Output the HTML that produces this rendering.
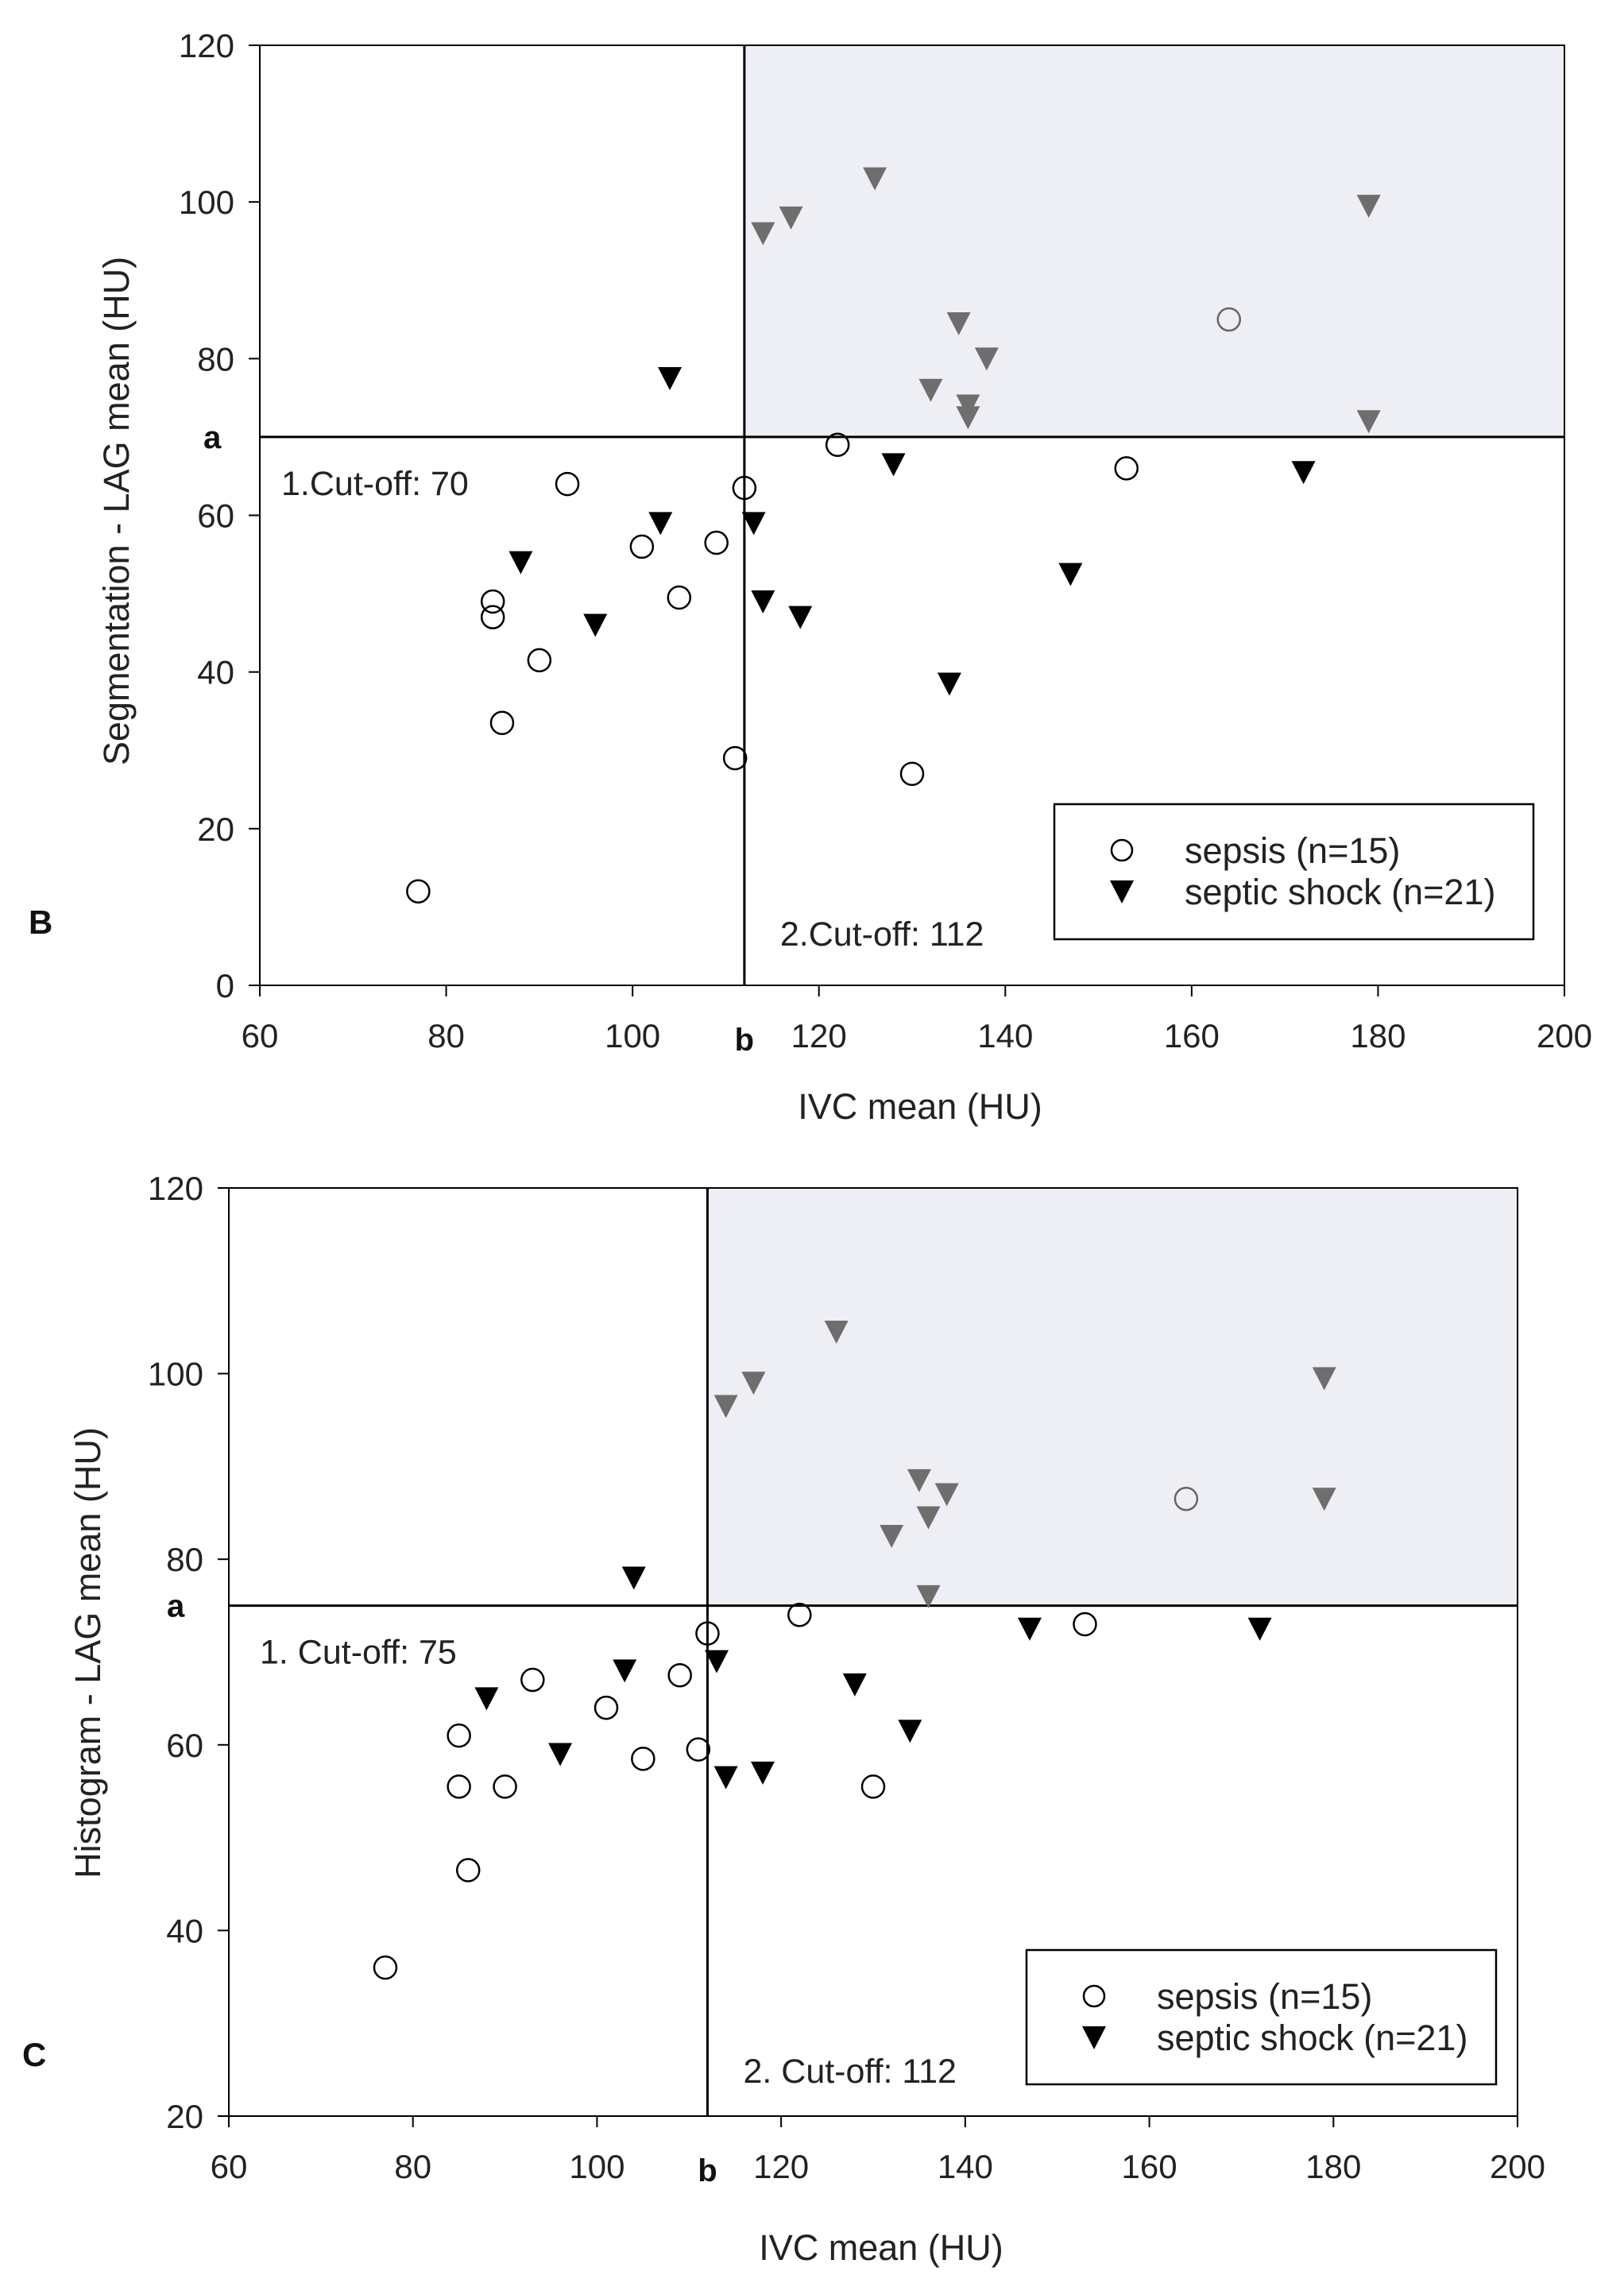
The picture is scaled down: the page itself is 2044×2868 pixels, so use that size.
<!DOCTYPE html>
<html><head><meta charset="utf-8"><style>
html,body{margin:0;padding:0;background:#fff;}
svg{display:block;font-family:"Liberation Sans",sans-serif;}
</style></head><body>
<svg id="chart" width="2044" height="2868" viewBox="0 0 2044 2868" xmlns="http://www.w3.org/2000/svg"></svg>
<script>
// Panel B data
const bSepsisX=[77,85,85,86,90,93,101,105,109,111,112,122,130,153,164];
const bSepsisY=[12,49,47,33.5,41.5,64,56,49.5,56.5,29,63.5,69,27,66,85];
const bShockX=[88,96,103,104,113,114,118,128,134,147,172,114,117,126,132,135,136,136,138,179,179];
const bShockY=[54,46,59,77.5,59,49,47,66.5,38.5,52.5,65.5,96,98,103,76,84.5,74,72.5,80,99.5,72];
// Panel C data
const cSepsisX=[77,85,85,86,90,93,101,105,109,111,112,122,130,153,164];
const cSepsisY=[36,61,55.5,46.5,55.5,67,64,58.5,67.5,59.5,72,74,55.5,73,86.5];
const cShockX=[88,96,103,104,113,114,118,128,134,147,172,114,117,126,132,135,136,136,138,179,179];
const cShockY=[65,59,68,78,69,56.5,57,66.5,61.5,72.5,72.5,96.5,99,104.5,82.5,88.5,84.5,76,87,99.5,86.5];
const xTicks=[60,80,100,120,140,160,180,200];
const bYTicks=[0,20,40,60,80,100,120];
const cYTicks=[20,40,60,80,100,120];

const NS="http://www.w3.org/2000/svg";
const svg=document.getElementById('chart');
function mk(tag,attrs,parent,txt){const e=document.createElementNS(NS,tag);for(const k in attrs)e.setAttribute(k,attrs[k]);if(txt!==undefined)e.textContent=txt;(parent||svg).appendChild(e);return e;}

function panel(cfg){
  const g=mk('g',{});
  
  
  const sx=v=>cfg.L+(v-60)/(140)*(cfg.R-cfg.L);
  const sy=v=>cfg.B-(v-cfg.ymin)/(cfg.ymax-cfg.ymin)*(cfg.B-cfg.T);
  const shade=mk('rect',{x:sx(cfg.cx),y:cfg.T,width:cfg.R-sx(cfg.cx),height:sy(cfg.cy)-cfg.T,fill:'#eeeff5'},g);
  
  
  const box=mk('rect',{x:cfg.L,y:cfg.T,width:cfg.R-cfg.L,height:cfg.B-cfg.T,fill:'none',stroke:'#000','stroke-width':2},g);
  
  
  const hl=mk('line',{x1:cfg.L,x2:cfg.R,y1:sy(cfg.cy),y2:sy(cfg.cy),stroke:'#000','stroke-width':3},g);
  
  
  const vl=mk('line',{x1:sx(cfg.cx),x2:sx(cfg.cx),y1:cfg.T,y2:cfg.B,stroke:'#000','stroke-width':3},g);
  
  
  xTicks.forEach(v=>{
    mk('line',{x1:sx(v),x2:sx(v),y1:cfg.B,y2:cfg.B+14,stroke:'#000','stroke-width':2},g);
    const t=mk('text',{x:sx(v),y:cfg.B+78,'font-size':42,'text-anchor':'middle',fill:'#222'},g,String(v));
    
    
  });
  cfg.yTicks.forEach(v=>{
    mk('line',{x1:cfg.L-14,x2:cfg.L,y1:sy(v),y2:sy(v),stroke:'#000','stroke-width':2},g);
    const t=mk('text',{x:cfg.L-32,y:sy(v)+15,'font-size':42,'text-anchor':'end',fill:'#222'},g,String(v));
    
    
  });
  const xt=mk('text',{x:(cfg.L+cfg.R)/2+10,y:cfg.xTitleY,'font-size':45,'text-anchor':'middle',fill:'#222'},g,'IVC mean (HU)');
  
  
  const yt=mk('text',{x:0,y:0,'font-size':45,'text-anchor':'middle',fill:'#222',transform:`translate(${cfg.yTitleX},${cfg.yTitleY}) rotate(-90)`},g,cfg.ytitle);
  
  
  const la=mk('text',{x:cfg.aX,y:sy(cfg.cy)+14,'font-size':40,'font-weight':'bold',fill:'#111'},g,'a');
  
  
  const lb=mk('text',{x:sx(cfg.cx),y:cfg.B+82,'font-size':40,'font-weight':'bold','text-anchor':'middle',fill:'#111'},g,'b');
  
  
  const lp=mk('text',{x:cfg.pX,y:cfg.pY,'font-size':42,'font-weight':'bold',fill:'#111'},g,cfg.panel);
  
  
  const c1=mk('text',{x:cfg.c1X,y:sy(cfg.cy)+73,'font-size':43,fill:'#222'},g,cfg.c1);
  
  
  const c2=mk('text',{x:sx(cfg.cx)+45,y:cfg.c2Y,'font-size':43,fill:'#222'},g,cfg.c2);
  
  
  cfg.sx_.forEach((x,i)=>{
    const y=cfg.sy_[i];
    const inQ=x>cfg.cx&&y>cfg.cy;
    const c=mk('circle',{cx:sx(x),cy:sy(y),r:14,fill:'none',stroke:inQ?'#666':'#000','stroke-width':2.5},g);
    
    
  });
  cfg.tx_.forEach((x,i)=>{
    const y=cfg.ty_[i];
    const inQ=x>cfg.cx&&y>cfg.cy;
    const X=sx(x),Y=sy(y);
    const p=mk('polygon',{points:`${X-15},${Y-14} ${X+15},${Y-14} ${X},${Y+15}`,fill:inQ?'#6e6e6e':'#000'},g);
    
    
  });
  const lg=mk('g',{},g);
  
  
  mk('rect',{x:cfg.lgX,y:cfg.lgY,width:cfg.lgW,height:cfg.lgH,fill:'#fff',stroke:'#000','stroke-width':2.5},lg);
  const e1=mk('g',{},lg);
  
  
  mk('circle',{cx:cfg.lgX+85,cy:cfg.lgY+58,r:13,fill:'none',stroke:'#000','stroke-width':2.5},e1);
  mk('text',{x:cfg.lgX+164,y:cfg.lgY+74,'font-size':45,fill:'#222'},e1,'sepsis (n=15)');
  const e2=mk('g',{},lg);
  
  
  const X=cfg.lgX+85,Y=cfg.lgY+110;
  mk('polygon',{points:`${X-15},${Y-14} ${X+15},${Y-14} ${X},${Y+15}`,fill:'#000'},e2);
  mk('text',{x:cfg.lgX+164,y:cfg.lgY+126,'font-size':45,fill:'#222'},e2,'septic shock (n=21)');
}

panel({name:'panel-b-chart',panel:'B',L:327,R:1969,T:57,B:1240,ymin:0,ymax:120,cx:112,cy:70,yTicks:bYTicks,
  ytitle:'Segmentation - LAG mean (HU)',yTitleX:162,yTitleY:643,xTitleY:1408,aX:256,pX:36,pY:1175,
  c1:'1.Cut-off: 70',c1X:354,c2:'2.Cut-off: 112',c2Y:1190,
  sx_:bSepsisX,sy_:bSepsisY,tx_:bShockX,ty_:bShockY,lgX:1327,lgY:1012,lgW:603,lgH:170});
panel({name:'panel-c-chart',panel:'C',L:288,R:1910,T:1495,B:2663,ymin:20,ymax:120,cx:112,cy:75,yTicks:cYTicks,
  ytitle:'Histogram - LAG mean (HU)',yTitleX:126,yTitleY:2080,xTitleY:2844,aX:210,pX:28,pY:2600,
  c1:'1. Cut-off: 75',c1X:327,c2:'2. Cut-off: 112',c2Y:2621,
  sx_:cSepsisX,sy_:cSepsisY,tx_:cShockX,ty_:cShockY,lgX:1292,lgY:2454,lgW:591,lgH:169});
</script>
</body></html>
